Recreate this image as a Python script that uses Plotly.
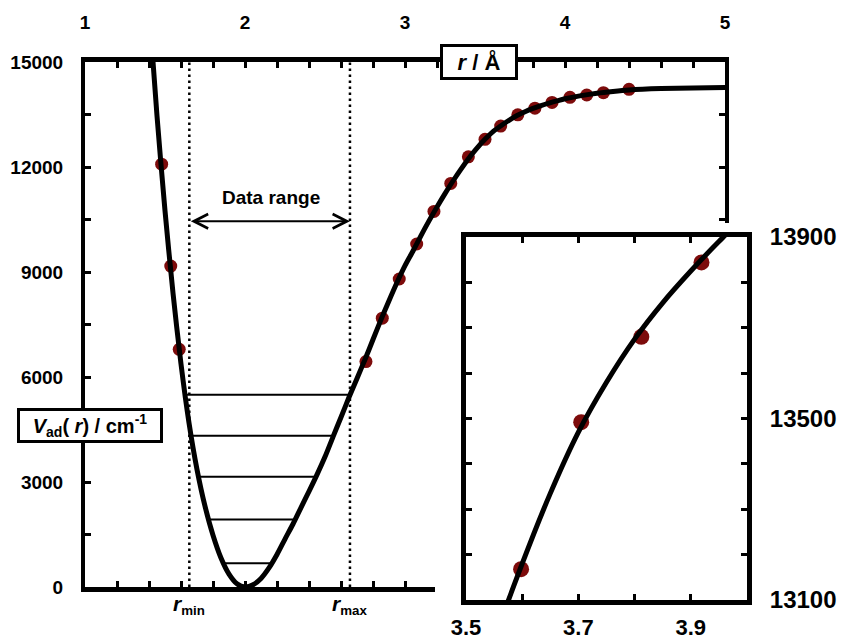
import plotly.graph_objects as go

W, H = 842, 643

# ---- data (r in Angstrom, V in cm-1) ----
curve_r = [1.40, 1.45, 1.50, 1.55, 1.60, 1.65, 1.70, 1.75, 1.80, 1.85, 1.90, 1.95, 2.00,
           2.05, 2.10, 2.15, 2.20, 2.25, 2.30, 2.35, 2.40, 2.45, 2.50, 2.55, 2.60, 2.65,
           2.70, 2.75, 2.80, 2.85, 2.90, 2.95, 3.00, 3.05, 3.10, 3.15, 3.20, 3.25, 3.30,
           3.35, 3.40, 3.45, 3.50, 3.55, 3.60, 3.65, 3.70, 3.75, 3.80, 3.85, 3.90, 3.95,
           4.00, 4.10, 4.20, 4.30, 4.40, 4.60, 4.80, 5.00]
curve_v = [16560, 13460, 10750, 8400, 6370, 4690, 3360, 2310, 1480, 830, 370, 93, 0,
           62, 245, 545, 930, 1370, 1800, 2270, 2730, 3210, 3720, 4290, 4850, 5420,
           5960, 6500, 7070, 7640, 8180, 8700, 9180, 9600, 10040, 10460, 10860, 11240, 11600,
           11940, 12260, 12540, 12790, 13010, 13180, 13335, 13470, 13580, 13675, 13755, 13825, 13890,
           13950, 14040, 14110, 14160, 14200, 14240, 14260, 14270]

data_r = [1.479, 1.536, 1.589, 2.756, 2.858, 2.964, 3.073, 3.181, 3.286, 3.396,
          3.500, 3.598, 3.705, 3.812, 3.919, 4.031, 4.136, 4.240, 4.400]
data_v = [12080, 9170, 6790, 6440, 7680, 8800, 9800, 10730, 11530, 12290,
          12790, 13168, 13492, 13680, 13844, 13991, 14057, 14123, 14220]

level_e = [680, 1930, 3150, 4320, 5490]
level_rl = [1.866, 1.773, 1.710, 1.664, 1.632]
level_rr = [2.167, 2.315, 2.444, 2.553, 2.656]

r_min, r_max = 1.652, 2.656
arrow_v = 10450
range_label_r, range_label_v = 2.165, 11120

main_x_ticks = [1, 2, 3, 4, 5]
main_x_labels = ["1", "2", "3", "4", "5"]
main_y_ticks = [0, 3000, 6000, 9000, 12000, 15000]
main_y_labels = ["0", "3000", "6000", "9000", "12000", "15000"]

inset_x_ticks = [3.5, 3.7, 3.9]
inset_x_labels = ["3.5", "3.7", "3.9"]
inset_y_ticks = [13100, 13500, 13900]
inset_y_labels = ["13100", "13500", "13900"]

FONT = "Liberation Sans, Arial, sans-serif"
DOT = "#7d0b0b"


def px_x(p):
    return p / W


def px_y(p):
    return 1 - p / H


fig = go.Figure()

# ---- main panel ----
for r in (r_min, r_max):
    fig.add_trace(go.Scatter(x=[r, r], y=[0, 15000], mode="lines",
                             line=dict(color="black", width=2.5, dash="2.5px,3.5px"),
                             hoverinfo="skip", showlegend=False))
for e, rl, rr in zip(level_e, level_rl, level_rr):
    fig.add_trace(go.Scatter(x=[rl, rr], y=[e, e], mode="lines",
                             line=dict(color="black", width=2),
                             hoverinfo="skip", showlegend=False))
fig.add_trace(go.Scatter(x=data_r, y=data_v, mode="markers",
                         marker=dict(color=DOT, size=13),
                         showlegend=False))
fig.add_trace(go.Scatter(x=curve_r, y=curve_v, mode="lines",
                         line=dict(color="black", width=5, shape="spline", smoothing=0.8),
                         showlegend=False))

# ---- white padding panel around the inset ----
fig.add_trace(go.Scatter(x=[0], y=[0], mode="markers", marker=dict(opacity=0),
                         xaxis="x2", yaxis="y2", hoverinfo="skip", showlegend=False))

# ---- inset panel ----
fig.add_trace(go.Scatter(x=data_r, y=data_v, mode="markers",
                         marker=dict(color=DOT, size=16),
                         xaxis="x3", yaxis="y3", showlegend=False))
fig.add_trace(go.Scatter(x=curve_r, y=curve_v, mode="lines",
                         line=dict(color="black", width=5, shape="spline", smoothing=0.8),
                         xaxis="x3", yaxis="y3", showlegend=False))

axis_common = dict(showgrid=False, zeroline=False, showline=True, linecolor="black",
                   ticks="inside", tickcolor="black", automargin=False, mirror="ticks",
                   fixedrange=True, ticklen=6, tickwidth=3)
minor_common = dict(ticks="inside", ticklen=6, tickwidth=3, tickcolor="black", showgrid=False)

fig.update_layout(
    template="none",
    width=W, height=H,
    margin=dict(l=0, r=0, t=0, b=0),
    paper_bgcolor="white", plot_bgcolor="white",
    font=dict(family=FONT, color="black", size=19),
    showlegend=False,
    xaxis=dict(axis_common, domain=[px_x(85), px_x(725)], range=[1, 5], side="top",
               anchor="y", tickmode="array", tickvals=main_x_ticks, ticktext=main_x_labels,
               minor=dict(minor_common, dtick=0.2, tick0=1),
               linewidth=5, ticklabelstandoff=20,
               tickfont=dict(size=19, weight="bold", family=FONT)),
    yaxis=dict(axis_common, domain=[px_y(587), px_y(62)], range=[0, 15000],
               anchor="x", tickmode="array", tickvals=main_y_ticks, ticktext=main_y_labels,
               minor=dict(minor_common, dtick=1500, tick0=0),
               linewidth=4, ticklabelstandoff=14,
               tickfont=dict(size=19, weight="bold", family=FONT)),
    xaxis2=dict(domain=[px_x(435), px_x(762)], range=[0, 1], visible=False, anchor="y2"),
    yaxis2=dict(domain=[0, px_y(223)], range=[0, 1], visible=False, anchor="x2"),
    xaxis3=dict(axis_common, domain=[px_x(466), px_x(747)], range=[3.5, 4.0],
                anchor="y3", tickmode="array", tickvals=inset_x_ticks, ticktext=inset_x_labels,
                minor=dict(minor_common, dtick=0.1, tick0=3.5),
                linewidth=5, ticklabelstandoff=4,
                tickfont=dict(size=22, weight="bold", family=FONT)),
    yaxis3=dict(axis_common, domain=[px_y(600), px_y(237)], range=[13100, 13900],
                anchor="x3", side="right", tickmode="array", tickvals=inset_y_ticks,
                ticktext=inset_y_labels, minor=dict(minor_common, dtick=100, tick0=13100),
                linewidth=5, ticklabelstandoff=13,
                tickfont=dict(size=24, weight="bold", family=FONT)),
)

bold = dict(family=FONT, color="black", size=19, weight="bold")

fig.add_annotation(xref="paper", yref="paper", x=px_x(479), y=px_y(62),
                   xanchor="center", yanchor="middle",
                   text="<i>r</i> / Å", showarrow=False,
                   font=dict(bold, size=22), bgcolor="white", bordercolor="black",
                   borderwidth=3, borderpad=1, width=70, height=28)
fig.add_annotation(xref="paper", yref="paper", x=px_x(90), y=px_y(425.5),
                   xanchor="center", yanchor="middle",
                   text="<i>V</i><sub>ad</sub>( <i>r</i>) / cm<sup>-1</sup>", showarrow=False,
                   font=dict(bold, size=20), bgcolor="white", bordercolor="black",
                   borderwidth=3, borderpad=1, width=138, height=27)
fig.add_annotation(xref="x", yref="y", x=range_label_r, y=range_label_v,
                   xanchor="center", yanchor="middle",
                   text="Data range", showarrow=False, font=bold)
fig.add_annotation(xref="x", yref="y", axref="x", ayref="y",
                   x=r_max, y=arrow_v, ax=r_min, ay=arrow_v, text="",
                   showarrow=True, arrowside="end+start", arrowhead=5, startarrowhead=5,
                   arrowsize=1.4, startarrowsize=1.4, arrowwidth=2, arrowcolor="black",
                   standoff=0, startstandoff=0)
for r, sub in ((r_min, "min"), (r_max, "max")):
    fig.add_annotation(xref="x", yref="paper", x=r, y=px_y(605),
                       xanchor="center", yanchor="middle",
                       text="<span style='font-size:21px'><i>r</i></span><sub>" + sub + "</sub>",
                       showarrow=False, font=bold)

# the page's default 8 px body margin would push the 842x643 figure out of the window
fig.write_html("out.html", config={"displayModeBar": False},
               post_script="document.body.style.margin='0';")
